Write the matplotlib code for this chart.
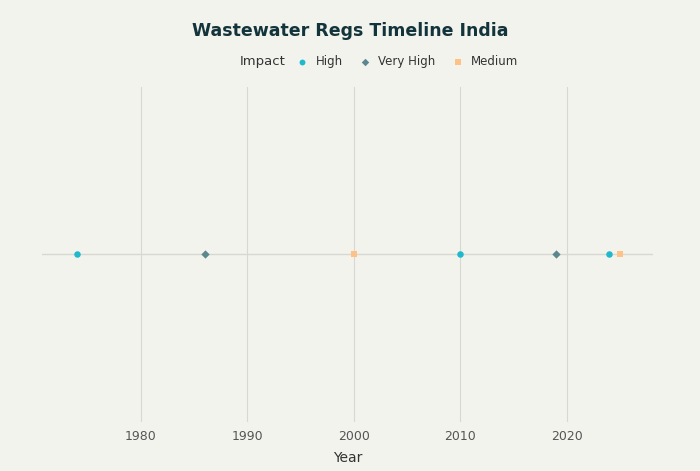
import matplotlib
matplotlib.use("Agg")
import matplotlib.pyplot as plt

years = [1974, 1986, 2000, 2010, 2019, 2024, 2025]
impacts = ["High", "Very High", "Medium", "High", "Very High", "High", "Medium"]
impact_order = ["High", "Very High", "Medium"]
colors = {"High": "#1FB8CD", "Very High": "#5D878F", "Medium": "#FFC185"}
markers = {"High": "o", "Very High": "D", "Medium": "s"}
sizes = {"High": 22, "Very High": 18, "Medium": 20}

bg = "#F3F3EE"
fig = plt.figure(figsize=(7, 4.71), dpi=100, facecolor=bg)
ax = fig.add_axes([0.06, 0.105, 0.873, 0.71], facecolor=bg)

ax.axhline(0, color="#D8D8D3", lw=1, zorder=1, xmin=0, xmax=1)
for imp in impact_order:
    xs = [y for y, i in zip(years, impacts) if i == imp]
    ax.scatter(xs, [0]*len(xs), s=sizes[imp], marker=markers[imp],
               color=colors[imp], label=imp, zorder=3, linewidths=0)

ax.set_xlim(1970.7, 2028.1)
ax.set_ylim(-1, 1)
ax.set_xticks([1980, 1990, 2000, 2010, 2020])
ax.grid(axis="x", color="#D8D8D3", lw=0.8)
ax.set_axisbelow(True)
ax.set_yticks([])
for s in ax.spines.values():
    s.set_visible(False)
ax.tick_params(axis="x", length=0, colors="#555555", labelsize=9, pad=6)
ax.set_xlabel("Year", fontsize=10, color="#333333", labelpad=6)

fig.text(0.5, 0.935, "Wastewater Regs Timeline India", ha="center", va="center",
         fontsize=12.5, fontweight="bold", color="#13343B")
fig.text(0.343, 0.87, "Impact", ha="left", va="center", fontsize=9.5, color="#333333")
leg = fig.legend(loc="center left", bbox_to_anchor=(0.4, 0.87), ncol=3, frameon=False,
                 fontsize=8.5, handletextpad=0.1, columnspacing=0.9, markerscale=0.9)
for t in leg.get_texts():
    t.set_color("#333333")

fig.savefig("out.png", dpi=100, facecolor=bg)
